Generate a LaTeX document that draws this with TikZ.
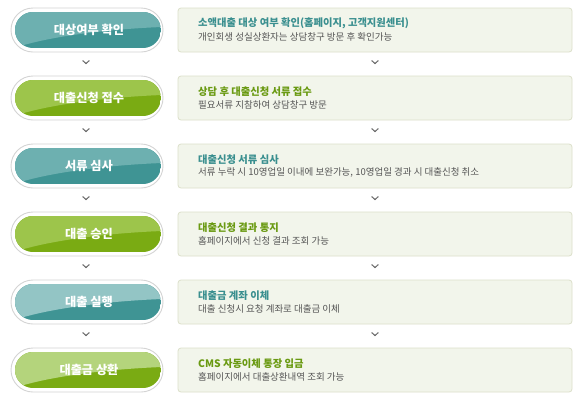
\documentclass[tikz,border=0pt]{standalone}
\usepackage{fontspec}
\setmainfont{Noto Sans CJK KR}
\usetikzlibrary{calc}
\definecolor{tealD}{HTML}{3F9494}
\definecolor{tealL}{HTML}{6DB0B0}
\definecolor{tealLL}{HTML}{93C5C5}
\definecolor{greenD}{HTML}{7AAB13}
\definecolor{greenL}{HTML}{9DC54B}
\definecolor{greenLL}{HTML}{B4D47C}
\definecolor{boxfill}{HTML}{F2F5EB}
\definecolor{boxline}{HTML}{DCE0CA}
\definecolor{tealT}{HTML}{3A8F8F}
\definecolor{greenT}{HTML}{6A9A12}
\definecolor{bodyT}{HTML}{555555}
\definecolor{chev}{HTML}{666666}
\tikzset{
  pilltext/.style={text=white,font=\fontsize{12.2}{14}\selectfont\bfseries,inner sep=0pt},
  infobox/.style={draw=boxline,fill=boxfill,rounded corners=3pt,minimum width=394pt,minimum height=44pt,inner sep=0pt,line width=0.8pt},
  titletext/.style={anchor=west,inner sep=0pt,font=\fontsize{10.3}{12}\selectfont\bfseries},
  bodytext/.style={anchor=west,inner sep=0pt,text=bodyT,font=\fontsize{9.5}{11}\selectfont},
  chevron/.style={draw=chev,line width=1pt}
}
\newcommand{\pillrow}[8]{%
  % #1 index, #2 y, #3 dark, #4 light, #5 pill text, #6 title colour, #7 title, #8 body
  \draw[fill=white,draw=black!17,line width=0.9pt,rounded corners=22pt] (11,#2-22) rectangle (163,#2+22);
  \begin{scope}
    \clip[rounded corners=18pt] (15,#2-18) rectangle (161,#2+18);
    \fill[#3] (15,#2-18) rectangle (161,#2+18);
    \fill[#4] (15,#2-19) -- (162,#2-19) -- (162,#2-3) .. controls (110,#2-1) and (50,#2+6) .. (14,#2+18) -- cycle;
  \end{scope}
  \node[pilltext] (p#1) at (89,#2) {#5};
  \node[infobox] (b#1) at (375,#2) {};
  \node[titletext,text=#6] (t#1) at (198,#2-6.5) {#7};
  \node[bodytext] (d#1) at (198,#2+6.5) {#8};
}
\newcommand{\chevat}[1]{\draw[chevron] ($(#1)+(-3.4,-1.5)$) -- ($(#1)+(0,1.6)$) -- ($(#1)+(3.4,-1.5)$);}
\begin{document}
\begin{tikzpicture}[x=1pt,y=-1pt]
\useasboundingbox[fill=white] (0,0) rectangle (587,405);
\pillrow{1}{30}{tealD}{tealL}{대상여부 확인}{tealT}{소액대출 대상 여부 확인(홈페이지, 고객지원센터)}{개인회생 성실상환자는 상담창구 방문 후 확인가능}
\pillrow{2}{98}{greenD}{greenL}{대출신청 접수}{greenT}{상담 후 대출신청 서류 접수}{필요서류 지참하여 상담창구 방문}
\pillrow{3}{166}{tealD}{tealL}{서류 심사}{tealT}{대출신청 서류 심사}{서류 누락 시 10영업일 이내에 보완가능, 10영업일 경과 시 대출신청 취소}
\pillrow{4}{234}{greenD}{greenL}{대출 승인}{greenT}{대출신청 결과 통지}{홈페이지에서 신청 결과 조회 가능}
\pillrow{5}{302}{tealD}{tealLL}{대출 실행}{tealT}{대출금 계좌 이체}{대출 신청시 요청 계좌로 대출금 이체}
\pillrow{6}{370}{greenD}{greenLL}{대출금 상환}{greenT}{CMS 자동이체 통장 입금}{홈페이지에서 대출상환내역 조회 가능}
\foreach \i/\j in {1/2,2/3,3/4,4/5,5/6}{
  \coordinate (cl\i) at ($(p\i)!0.47!(p\j)$);
  \coordinate (cr\i) at ($(b\i)!0.47!(b\j)$);
  \coordinate (cla\i) at (86,0 |- cl\i);
  \chevat{cla\i}
  \chevat{cr\i}
}
\end{tikzpicture}
\end{document}
